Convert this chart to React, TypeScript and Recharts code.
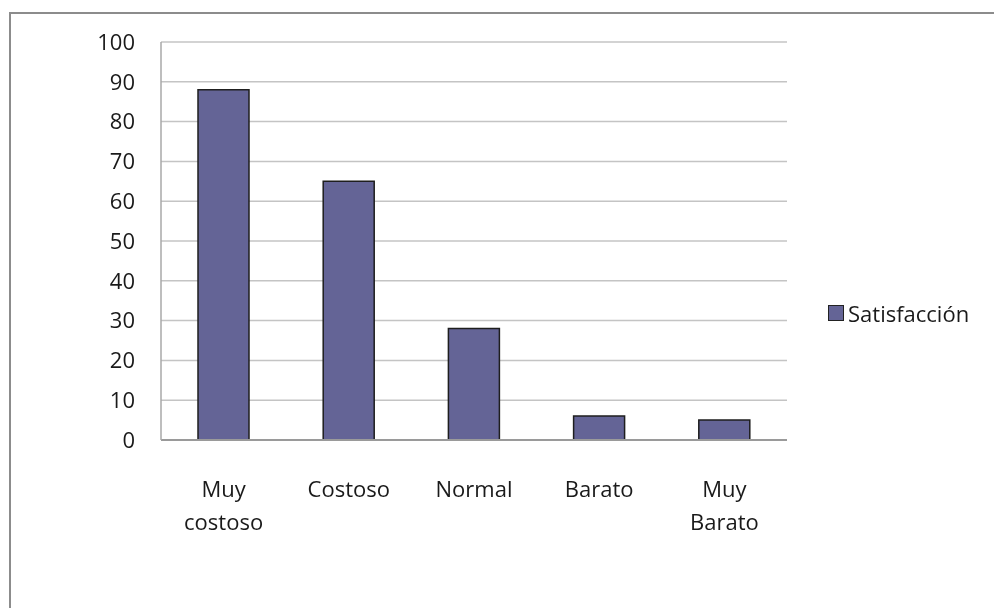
import React from "react";
import { BarChart, Bar, XAxis, YAxis, CartesianGrid, Legend } from "recharts";

const categories = ["Muy costoso", "Costoso", "Normal", "Barato", "Muy Barato"];
const satisfaccion = [88, 65, 28, 6, 5];
const yTicks = [0, 10, 20, 30, 40, 50, 60, 70, 80, 90, 100];

const data = categories.map((c, i) => ({ name: c, Satisfacción: satisfaccion[i] }));

const FONT = "'Open Sans', sans-serif";
const BAR = "#646496";

const XTick = (props: any) => {
  const { x, y, payload } = props;
  const lines = String(payload.value).split(" ");
  return (
    <text x={x} y={y} textAnchor="middle" fill="#1a1a1a" fontFamily={FONT} fontSize={22}>
      {lines.map((l, i) => (
        <tspan key={i} x={x} dy={i === 0 ? 49 : 33}>
          {l}
        </tspan>
      ))}
    </text>
  );
};

const LegendBox = () => (
  <div style={{ display: "flex", alignItems: "center", fontFamily: FONT, fontSize: 22, color: "#1a1a1a" }}>
    <span style={{ width: 14, height: 14, background: BAR, border: "1px solid #222", marginRight: 4, display: "inline-block" }} />
    Satisfacción
  </div>
);

export default function App() {
  return (
    <div>
      <div
        style={{
          position: "fixed",
          left: 9,
          top: 12,
          width: 1000,
          height: 700,
          border: "2px solid #8c8c8c",
          boxSizing: "border-box",
        }}
      />
      <div style={{ position: "fixed", left: 0, top: 0 }}>
        <BarChart
          width={994}
          height={608}
          data={data}
          margin={{ top: 42, right: 37, bottom: 138, left: 0 }}
        >
          <CartesianGrid vertical={false} stroke="#c4c4c4" strokeWidth={1.5} />
          <XAxis
            dataKey="name"
            height={30}
            tick={<XTick />}
            tickLine={false}
            axisLine={{ stroke: "#9a9a9a", strokeWidth: 2 }}
            interval={0}
          />
          <YAxis
            width={161}
            domain={[0, 100]}
            ticks={yTicks}
            tickLine={false}
            tickSize={0}
            tickMargin={26}
            axisLine={{ stroke: "#a8a8a8", strokeWidth: 1.5 }}
            tick={{ fill: "#1a1a1a", fontFamily: FONT, fontSize: 22 }}
          />
          <Legend
            layout="horizontal"
            verticalAlign="middle"
            align="right"
            content={<LegendBox />}
            wrapperStyle={{ left: 828, top: 298, width: 170 }}
          />
          <Bar
            dataKey="Satisfacción"
            fill={BAR}
            stroke="#1e1e1e"
            strokeWidth={1.5}
            barSize={51}
            isAnimationActive={false}
          />
        </BarChart>
      </div>
    </div>
  );
}
